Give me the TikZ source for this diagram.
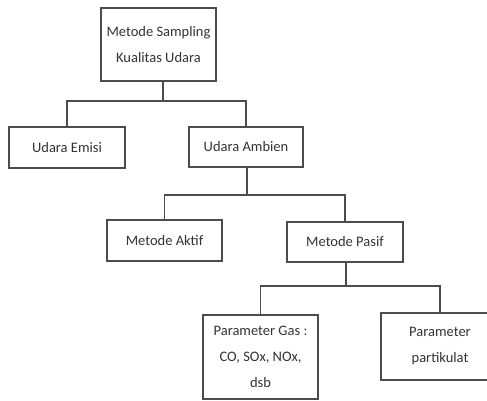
\documentclass[tikz,border=0pt]{standalone}
\usepackage{fontspec}
\setmainfont{Carlito}
\begin{document}
\begin{tikzpicture}[x = 1pt, y = -1pt,
		kotak/.style = {draw = black!70, line width = 1.4pt, align = center, text = black!80,
			inner sep = 0pt, font = \fontsize{14.5}{26}\selectfont},
		garis/.style = {draw = black!70, line width = 1.2pt}]
		%%%%%%%%%%%%%
		\useasboundingbox (0, 0) rectangle (487, 401);
		\clip (0, 0) rectangle (487, 401);
		%%%%%%%%%%%%%
		\node[kotak, minimum width = 115, minimum height = 73] (top) at (158.5, 44.5) {Metode Sampling\\Kualitas Udara};
		\node[kotak, minimum width = 116, minimum height = 41] (emisi) at (67, 147.5) {Udara Emisi};
		\node[kotak, minimum width = 114, minimum height = 40] (ambien) at (246, 147) {Udara Ambien};
		\node[kotak, minimum width = 115, minimum height = 41] (aktif) at (164.5, 240.5) {Metode Aktif};
		\node[kotak, minimum width = 116, minimum height = 40] (pasif) at (345, 242) {Metode Pasif};
		\node[kotak, minimum width = 115, minimum height = 84] (gas) at (260.5, 357) {Parameter Gas :\\CO, SOx, NOx,\\dsb};
		\node[kotak, minimum width = 118, minimum height = 67] (partikulat) at (440, 346.5) {Parameter\\partikulat};
		%%%%%%%%%%%%%
		\coordinate (j1) at (163, 101);
		\coordinate (j2) at (247, 195);
		\coordinate (j3) at (346, 286);
		%%%%%%%%%%%%%
		\draw [garis] (top.south -| j1) -- (j1);
		\draw [garis] (emisi.north) |- (j1) -| (ambien.north);
		\draw [garis] (ambien.south -| j2) -- (j2);
		\draw [garis] (aktif.north) |- (j2) -| (pasif.north);
		\draw [garis] (pasif.south -| j3) -- (j3);
		\draw [garis] (gas.north) |- (j3) -| (partikulat.north);
		%%%%%%%%%%%%%%
	\end{tikzpicture}
\end{document}
